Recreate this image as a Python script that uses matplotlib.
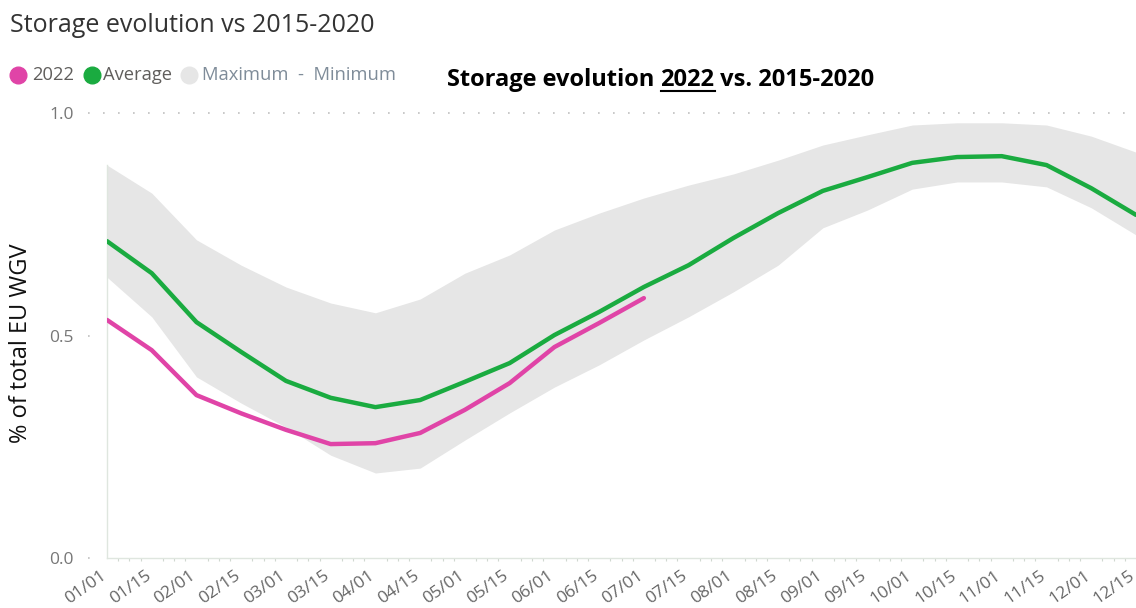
import numpy as np
import matplotlib.pyplot as plt
import matplotlib.transforms as mtransforms
from matplotlib.lines import Line2D

plt.rcParams['font.family'] = ['Open Sans', 'DejaVu Sans']

# Datos (lectura del gráfico)
fechas = ['01/01', '01/15', '02/01', '02/15', '03/01', '03/15', '04/01', '04/15',
          '05/01', '05/15', '06/01', '06/15', '07/01', '07/15', '08/01', '08/15',
          '09/01', '09/15', '10/01', '10/15', '11/01', '11/15', '12/01', '12/15']
promedio = [0.712, 0.640, 0.530, 0.463, 0.398, 0.360, 0.339, 0.355, 0.396, 0.438,
            0.501, 0.553, 0.609, 0.658, 0.719, 0.775, 0.825, 0.856, 0.888, 0.901,
            0.903, 0.883, 0.831, 0.771]
maximo = [0.883, 0.820, 0.715, 0.658, 0.609, 0.573, 0.551, 0.582, 0.640, 0.681,
          0.737, 0.775, 0.809, 0.838, 0.863, 0.894, 0.928, 0.951, 0.973, 0.978,
          0.978, 0.973, 0.948, 0.912]
minimo = [0.631, 0.542, 0.407, 0.348, 0.294, 0.231, 0.191, 0.202, 0.265, 0.326,
          0.384, 0.434, 0.490, 0.542, 0.598, 0.658, 0.742, 0.782, 0.829, 0.845,
          0.845, 0.834, 0.787, 0.726]
valores_2022 = [0.535, 0.467, 0.366, 0.325, 0.288, 0.256, 0.258, 0.281, 0.333, 0.393,
                0.474, 0.528, 0.584]

ROSA = '#E044A7'
VERDE = '#1AAB40'
GRIS_BANDA = '#E6E6E6'

fig = plt.figure(figsize=(11.36, 6.08), dpi=100)
ax = fig.add_axes([107 / 1136, 1 - 558 / 608, 1 - 107 / 1136, (558 - 113) / 608])

x = np.arange(len(fechas))
ax.fill_between(x, minimo, maximo, color=GRIS_BANDA, lw=0, zorder=1)
ax.plot(x, promedio, color=VERDE, lw=3.2, solid_capstyle='round', zorder=3)
ax.plot(x[:len(valores_2022)], valores_2022, color=ROSA, lw=3.2,
        solid_capstyle='round', zorder=3)

ax.set_xlim(0, 23)
ax.set_ylim(0, 1.0)

# Ejes
for lado in ['top', 'right']:
    ax.spines[lado].set_visible(False)
ax.spines['left'].set_color('#dfe6df')
ax.spines['left'].set_linewidth(1)
ax.spines['left'].set_bounds(0, maximo[0])
ax.spines['bottom'].set_color('#dfe6df')
ax.spines['bottom'].set_linewidth(1)

ax.set_yticks([0, 0.5, 1.0])
ax.set_yticklabels(['0.0', '0.5', '1.0'])
ax.tick_params(axis='y', length=0, pad=24, labelsize=12.5, labelcolor='#777777')

ax.set_xticks(x)
ax.set_xticklabels(fechas, rotation=35, ha='right', va='top', rotation_mode='anchor')
ax.tick_params(axis='x', length=0, pad=7, labelsize=12.5, labelcolor='#666666')
desplazamiento = mtransforms.ScaledTranslation(-7 / 100, 0, fig.dpi_scale_trans)
for etiqueta in ax.get_xticklabels():
    etiqueta.set_transform(etiqueta.get_transform() + desplazamiento)
ax.set_xticks(np.arange(0, 23.01, 0.25), minor=True)
ax.tick_params(axis='x', which='minor', length=2, color='#d0d8d0', width=0.8)

# Línea de cuadrícula punteada en 1.0 y marcas cortas en 0.5 / 0.0
trans = ax.get_yaxis_transform()
ax.plot([-0.0185, 1.0], [1.0, 1.0], transform=trans, clip_on=False,
        color='#c0c0c0', lw=1.2, linestyle=(0, (1, 8)), zorder=0)
for yv in [0.5, 0.0]:
    ax.plot([-0.0185, -0.006], [yv, yv], transform=trans, clip_on=False,
            color='#c0c0c0', lw=1.2, linestyle=(0, (1, 8)), zorder=0)

ax.set_ylabel('% of total EU WGV', fontsize=17, color='#111111')
ax.yaxis.set_label_coords(-0.072, 0.483)

# Título
fig.text(10 / 1136, 1 - 26 / 608, 'Storage evolution vs 2015-2020', fontsize=18,
         color='#333333', va='center', ha='left')

# Leyenda manual
ley_y = 1 - 75 / 608
items = [(18, ROSA, 32, '2022', '#605E5C'),
         (92, VERDE, 103, 'Average', '#605E5C'),
         (189, GRIS_BANDA, 202, 'Maximum  -  Minimum', '#7f8c99')]
for cx, col, tx, txt, tcol in items:
    fig.add_artist(Line2D([cx / 1136], [ley_y], marker='o', markersize=12,
                          color=col, lw=0, transform=fig.transFigure))
    fig.text(tx / 1136, ley_y, txt, fontsize=13.2, color=tcol, va='center', ha='left')

# Anotación en negrita con "2022" subrayado
fig.canvas.draw()
renderer = fig.canvas.get_renderer()
partes = ['Storage evolution ', '2022', ' vs. 2015-2020']
x_px = 447
y_fig = 1 - 80 / 608
for i, parte in enumerate(partes):
    t = fig.text(x_px / 1136, y_fig, parte, fontsize=17, fontweight='bold',
                 color='black', va='center', ha='left')
    bb = t.get_window_extent(renderer)
    if i == 1:
        fig.add_artist(Line2D([bb.x0 / 1136, bb.x1 / 1136],
                              [(bb.y0 + 1) / 608, (bb.y0 + 1) / 608],
                              color='black', lw=1.5, transform=fig.transFigure))
    x_px = bb.x1

fig.savefig('out.png', dpi=100)
